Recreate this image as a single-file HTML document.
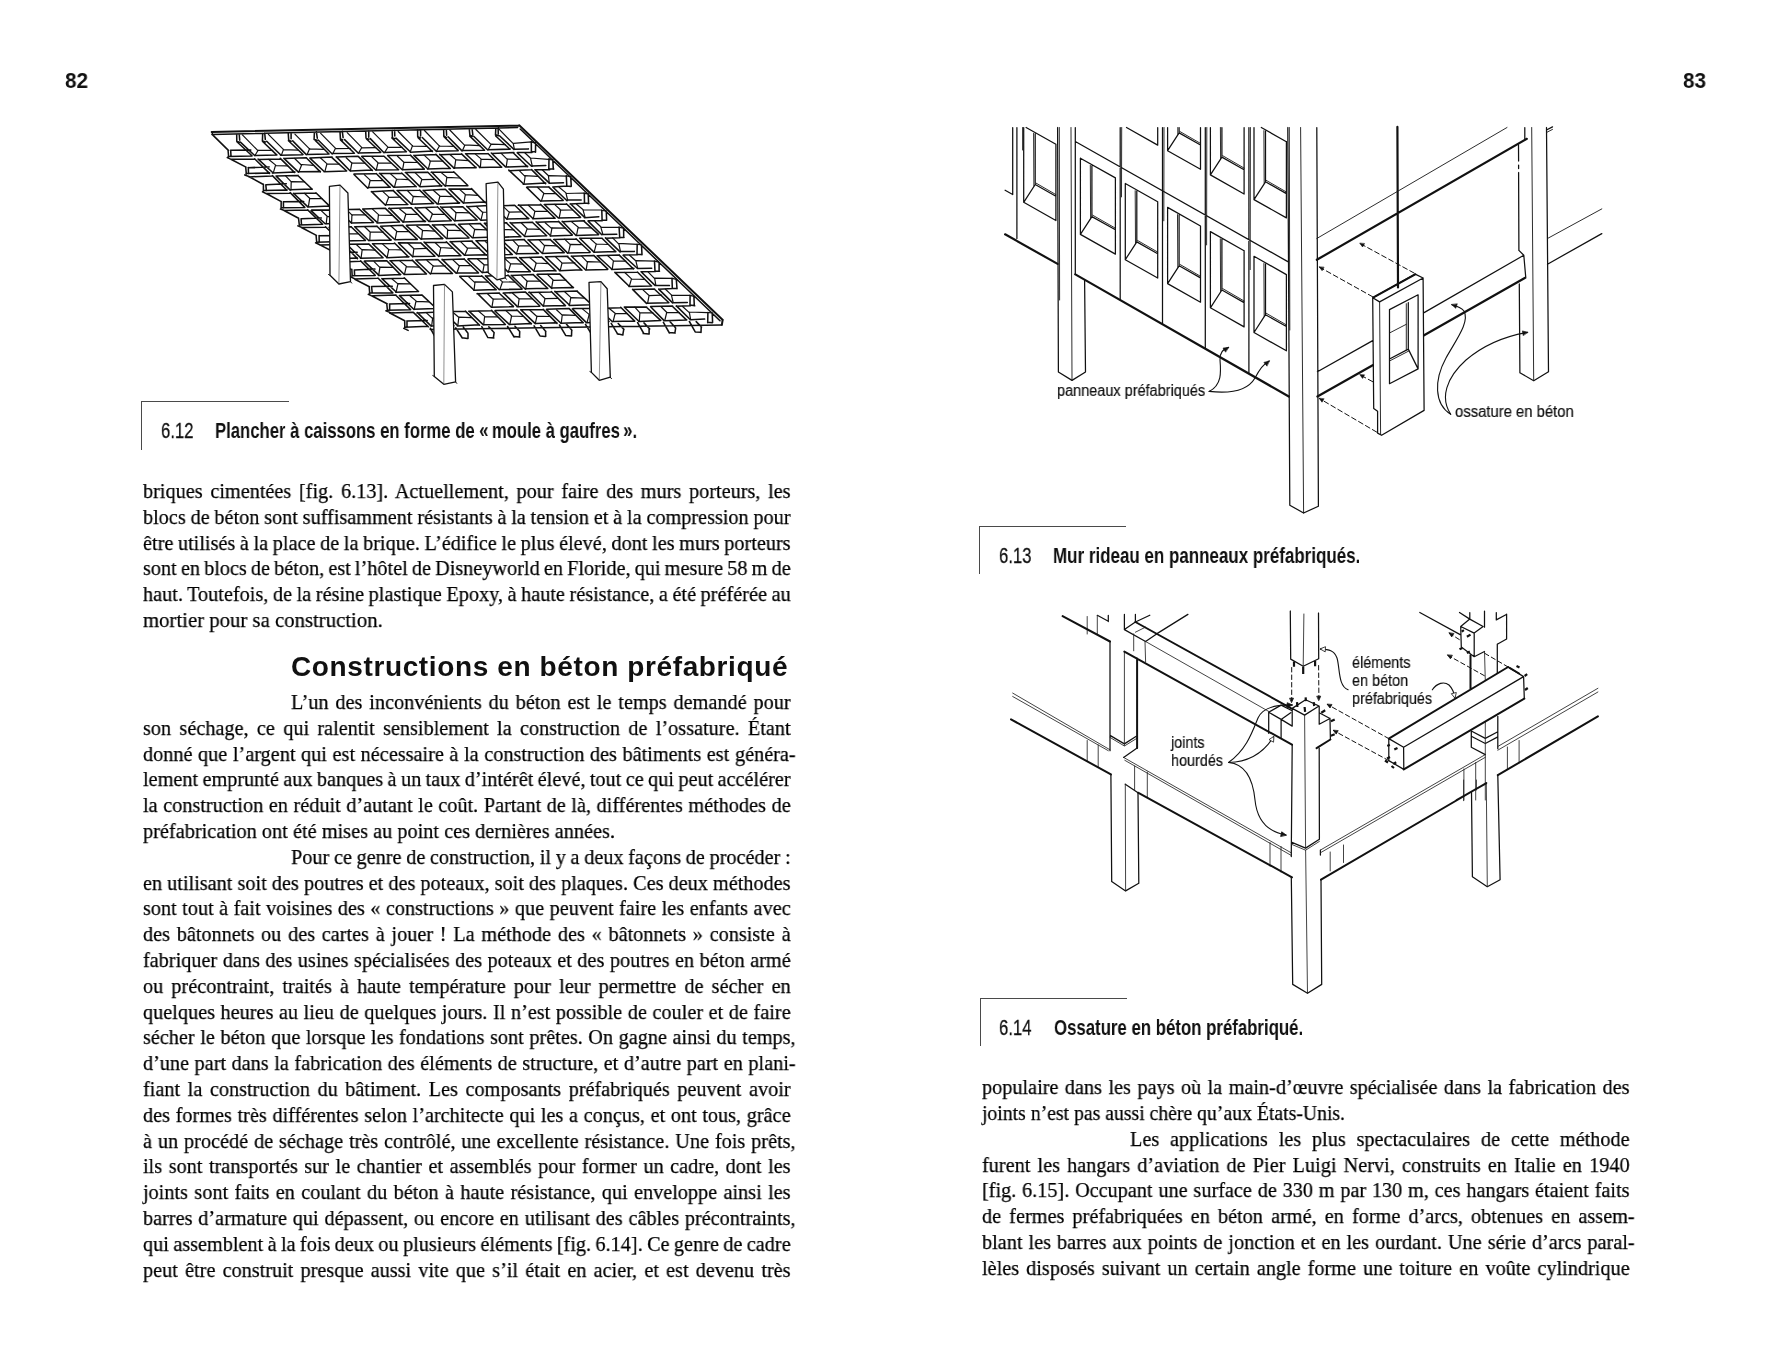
<!DOCTYPE html>
<html lang="fr"><head><meta charset="utf-8"><title>p82-83</title>
<style>
html,body{margin:0;padding:0;background:#fff;}
body{width:1772px;height:1358px;position:relative;overflow:hidden;font-family:"Liberation Serif",serif;color:#111;}
.t{position:absolute;white-space:nowrap;font-family:"Liberation Serif",serif;font-size:22.0px;line-height:26.0px;transform-origin:0 0;color:#000;-webkit-text-stroke:0.25px #000;will-change:transform;}
.pn{will-change:transform;position:absolute;font-family:"Liberation Sans",sans-serif;font-weight:bold;font-size:22px;line-height:24px;color:#111;transform-origin:0 0;transform:scaleX(0.94);}
.h{will-change:transform;position:absolute;white-space:nowrap;font-family:"Liberation Sans",sans-serif;font-weight:bold;font-size:28px;line-height:34px;letter-spacing:0.62px;transform-origin:0 0;color:#111;}
.rule{position:absolute;border-left:1.4px solid #4a4a4a;border-top:1.4px solid #4a4a4a;box-sizing:border-box;}
.cn,.cb,.lb{will-change:transform;position:absolute;white-space:nowrap;font-family:"Liberation Sans",sans-serif;transform-origin:0 0;color:#111;}
.cn{font-size:21.4px;line-height:26px;-webkit-text-stroke:0.3px #111;}
.cb{font-size:21.4px;line-height:26px;font-weight:bold;}
.lb{line-height:20px;color:#111;-webkit-text-stroke:0.2px #111;}
svg{position:absolute;left:0;top:0;overflow:visible;}
</style></head><body>
<div class="pn" style="left:64.6px;top:69.18px">82</div>
<div class="pn" style="left:1683.2px;top:69.18px">83</div>
<svg width="1772" height="1358" viewBox="0 0 1772 1358" fill="none" stroke="#1a1a1a" stroke-width="1.1" stroke-linecap="round" stroke-linejoin="round">
<g id="fig12" stroke="#111">
<path d="M276.9 154.9L255.0 155.4M254.9 155.7L240.4 142.1M262.6 141.5L276.7 154.9M302.8 154.8L280.5 155.2M280.8 155.0L266.7 141.2M288.5 140.7L303.0 154.5M328.8 154.1L306.4 154.4M306.3 154.6L292.7 140.9M315.0 140.1L329.0 154.0M354.4 153.2L332.3 153.5M332.2 154.0L318.2 140.0M340.5 139.9L354.4 153.2M380.7 152.4L358.1 153.1M358.4 153.2L344.6 139.6M366.5 139.0L380.7 152.3M406.2 151.7L384.1 152.4M384.0 152.8L370.3 138.6M392.2 138.2L406.4 151.7M432.5 151.0L410.3 152.2M410.5 152.0L396.0 138.1M418.1 137.8L432.4 151.5M458.2 150.8L436.5 151.2M436.5 151.5L422.3 137.5M444.0 136.8L458.1 150.4M484.1 150.2L462.4 150.5M462.0 150.9L448.1 136.7M469.8 136.1L484.5 150.2M510.3 149.1L487.8 149.8M487.8 150.0L473.7 136.2M495.7 136.0L510.0 149.3M528.4 148.9L513.7 149.3M513.9 149.4L499.5 135.7M258.4 159.5L280.7 158.9M295.0 172.1L272.5 173.1M272.7 172.5L258.1 159.1M280.3 158.4L294.4 172.4M284.0 158.5L306.5 157.8M320.4 171.5L298.6 171.8M298.4 172.1L283.9 158.4M306.5 158.0L320.3 171.9M310.2 158.0L332.1 157.0M346.6 170.9L324.0 171.8M324.4 171.7L309.9 158.1M332.0 157.6L346.4 170.8M336.1 157.0L358.1 156.3M372.2 170.0L350.4 170.9M350.0 170.8L336.4 156.9M358.5 156.6L372.4 170.5M361.8 156.3L383.9 156.2M398.5 169.8L375.9 170.0M376.0 170.2L361.7 156.5M384.0 156.3L398.6 169.7M387.6 155.6L409.9 155.2M424.2 169.0L402.2 169.7M402.2 169.8L387.8 155.8M410.4 155.1L424.3 169.1M413.9 155.4L435.8 154.4M449.8 168.2L427.6 169.1M427.9 169.0L413.9 155.4M435.9 154.4L450.3 168.5M439.7 154.7L462.0 154.1M476.1 167.4L453.6 168.1M454.0 168.1L439.7 154.3M461.5 153.9L476.1 167.8M465.5 153.8L487.5 153.7M501.7 167.1L479.4 167.6M480.0 167.3L465.8 154.0M488.0 153.5L501.7 167.3M491.8 153.5L513.9 152.6M527.7 166.3L505.9 167.0M505.5 166.9L491.3 153.0M513.4 153.0L527.6 166.7M517.5 152.6L532.0 152.4M545.8 165.6L531.8 166.0M531.5 166.2L517.2 152.8M276.0 176.0L298.0 175.4M312.2 189.0L290.0 189.7M290.2 190.1L276.2 176.1M298.1 175.7L312.2 189.2M354.0 173.9L375.6 173.8M390.3 187.3L367.9 187.5M367.8 188.2L354.0 174.5M376.2 173.5L389.7 187.1M379.4 173.4L401.9 173.2M415.6 186.4L393.8 187.3M393.7 187.1L379.7 173.3M401.7 173.0L416.2 186.8M405.3 172.6L427.6 172.3M441.9 185.8L419.9 186.8M419.7 186.4L405.9 172.8M427.9 172.2L441.6 186.2M431.1 172.2L453.9 172.0M467.9 185.7L445.9 185.8M445.3 186.3L431.6 172.0M453.7 171.7L467.6 185.3M509.0 170.7L531.1 169.7M545.7 183.1L523.2 184.2M523.4 183.7L508.8 170.1M531.6 169.6L545.6 183.7M534.8 169.7L549.7 169.7M563.5 182.8L549.1 183.3M549.4 183.1L535.2 169.9M293.6 193.6L316.1 193.0M329.8 206.1L307.5 206.9M307.9 206.9L293.5 193.2M315.9 192.8L330.1 206.6M371.3 191.7L393.6 190.6M407.9 204.5L385.8 204.7M385.5 205.2L371.6 191.6M393.2 190.6L407.4 204.2M397.0 190.5L419.3 190.2M433.7 203.5L411.1 204.2M411.5 204.1L397.1 190.5M419.7 190.1L433.3 203.5M423.4 190.4L445.3 189.2M459.6 202.9L437.0 203.9M437.2 203.9L423.1 190.3M445.3 189.2L459.1 203.1M448.9 189.1L471.6 189.1M485.4 202.1L463.5 202.9M463.5 203.1L449.3 189.1M471.5 188.6L485.3 202.7M527.0 187.1L549.0 186.9M563.2 200.4L540.8 201.1M540.8 201.2L526.7 187.4M548.6 186.9L563.1 200.3M552.8 187.0L567.1 186.1M581.2 200.0L567.1 200.1M567.0 200.7L552.8 187.0M311.6 210.1L333.5 210.0M347.4 223.2L325.5 223.8M325.1 223.7L311.1 210.6M333.6 210.0L347.4 223.6M337.6 209.7L359.3 209.3M373.5 222.5L351.5 223.0M351.6 223.1L337.3 210.0M359.5 209.2L373.4 222.4M362.9 209.1L385.4 208.2M399.5 222.1L377.0 223.0M377.1 222.4L362.8 209.1M385.6 208.6L399.4 221.9M388.7 208.6L410.9 207.8M425.6 221.2L402.9 222.1M403.2 222.1L389.2 208.1M411.1 207.7L425.0 221.7M415.1 207.9L437.2 207.0M451.3 220.7L429.3 221.4M428.9 221.4L415.3 207.5M437.4 206.8L451.1 220.6M441.0 207.3L463.0 206.7M477.2 220.0L454.7 220.8M454.7 221.0L440.6 206.7M462.7 206.8L477.0 219.9M467.0 206.7L488.6 205.6M502.7 219.2L481.1 220.3M480.9 220.3L466.8 206.3M488.6 205.6L503.2 219.3M492.6 205.9L514.7 205.3M528.9 218.6L507.0 219.1M507.0 219.2L492.3 205.5M515.0 205.5L528.6 218.8M518.2 205.3L540.8 204.8M554.9 218.1L532.6 218.7M532.9 218.5L518.8 204.8M540.5 204.4L555.1 218.2M544.2 204.4L566.8 204.0M580.5 217.5L558.8 217.9M558.3 218.0L544.6 204.7M566.4 203.7L580.5 217.4M570.1 203.9L584.5 203.2M598.8 216.8L584.4 217.7M584.6 217.4L570.4 203.8M329.2 227.5L351.2 226.8M365.1 240.5L342.8 240.9M343.3 241.1L329.1 227.2M351.1 226.8L365.4 240.4M354.6 226.8L377.1 226.3M391.2 239.9L369.2 240.4M368.9 240.7L354.7 226.8M377.0 226.3L390.9 240.1M380.6 226.3L402.9 225.3M416.8 239.3L395.1 239.8M394.9 239.7L380.6 226.4M402.8 225.6L417.3 239.4M406.5 225.2L428.7 224.8M442.9 238.6L420.9 239.0M421.1 239.3L406.4 225.6M429.1 225.1L442.7 238.7M432.3 225.0L454.8 224.4M469.0 238.1L446.9 238.6M446.5 238.5L432.6 224.9M454.7 224.5L468.9 237.7M458.6 224.3L480.6 223.5M495.1 236.9L472.7 237.8M472.3 237.8L458.6 224.4M480.5 223.9L494.8 237.2M484.6 223.3L506.8 222.8M520.7 236.4L498.5 237.4M498.6 237.3L484.3 223.3M506.4 223.0L520.8 236.7M510.4 222.9L532.6 222.3M546.7 235.7L524.5 236.4M524.6 236.2L510.1 222.5M532.6 222.5L546.7 235.8M536.4 222.2L558.6 221.6M572.1 235.2L550.4 236.1M550.6 235.8L536.1 221.9M558.5 221.4L572.2 234.9M562.2 221.8L584.4 220.7M598.5 234.7L576.2 235.5M576.0 235.5L562.2 221.2M583.9 221.1L598.6 234.3M588.1 220.8L602.3 220.7M616.8 234.3L602.1 234.4M601.8 234.8L588.1 221.1M346.3 244.2L368.7 243.9M383.1 257.8L360.4 258.3M361.0 258.3L346.7 244.2M369.0 244.1L383.0 257.8M372.7 243.7L394.4 243.4M409.0 256.7L386.7 257.7M386.9 257.4L372.5 243.8M394.5 243.0L408.6 257.0M398.4 242.8L420.3 242.9M435.0 256.2L412.6 256.6M412.7 256.7L398.7 243.3M420.8 242.9L434.5 255.9M424.2 242.5L446.6 242.2M460.7 255.5L438.4 255.9M438.8 256.4L424.1 242.1M446.3 241.8L460.9 255.8M450.0 241.7L472.2 241.0M486.5 254.7L464.2 255.2M464.5 255.1L450.4 241.6M472.1 241.6L486.3 255.2M475.9 240.8L498.4 240.6M512.2 254.5L490.1 254.7M490.0 254.6L476.4 241.0M498.1 240.6L512.3 254.5M501.7 240.4L524.5 239.6M538.5 253.4L516.5 253.8M516.4 254.0L501.8 240.2M524.4 240.0L538.1 253.5M528.0 240.0L550.3 239.4M564.0 252.6L542.2 253.4M542.2 253.2L528.1 239.7M550.3 239.6L564.2 252.6M553.6 239.4L576.2 238.9M590.0 252.4L567.9 253.0M567.6 253.1L554.1 239.2M576.0 238.7L590.1 252.0M579.9 238.3L602.2 238.2M615.7 251.4L593.8 252.2M593.7 251.9L579.7 238.3M602.0 238.3L615.8 251.7M605.6 238.2L620.2 237.8M634.4 251.4L619.4 251.6M620.1 251.9L605.5 237.9M364.5 261.1L386.5 260.7M400.7 274.4L378.4 275.4M378.5 274.9L364.3 261.4M386.8 260.8L400.4 274.6M389.9 260.8L412.6 260.3M426.5 274.0L404.1 274.6M404.3 274.5L390.3 260.8M412.2 260.1L426.3 273.9M416.3 260.1L437.9 259.5M452.3 273.4L429.9 273.6M430.5 274.0L415.8 260.0M438.1 259.7L452.5 273.5M442.0 259.8L464.2 258.9M478.5 272.9L456.2 273.1M456.1 273.1L442.1 259.4M464.1 259.0L478.2 272.5M468.2 258.7L490.0 258.6M503.8 271.6L482.0 272.5M482.3 272.7L467.9 259.2M490.1 258.3L504.3 271.9M493.7 258.3L516.3 257.5M530.1 271.5L507.7 271.7M508.2 272.1L493.8 257.9M516.2 257.8L530.3 271.6M519.6 257.8L541.7 257.1M555.6 270.5L534.0 271.3M533.9 271.0L519.7 257.6M541.7 257.1L556.0 271.0M545.8 256.8L567.9 256.2M581.6 269.8L559.4 270.8M559.8 270.4L545.5 256.8M567.4 256.6L581.9 270.3M571.3 256.2L593.8 255.5M607.6 269.6L585.6 270.1M585.4 269.7L571.4 256.0M594.0 255.6L607.8 269.1M597.1 255.8L619.3 254.9M633.9 268.4L611.5 269.5M611.7 269.0L597.3 255.8M619.5 255.4L633.5 269.0M623.3 255.0L637.5 254.8M651.7 268.3L637.4 268.5M637.3 268.3L623.1 255.2M382.2 278.7L404.4 278.2M418.0 291.4L395.7 292.3M396.2 292.0L381.9 278.6M404.2 277.8L418.5 291.5M459.7 276.3L482.0 276.1M496.1 289.5L473.7 290.3M473.6 289.8L459.9 276.8M481.7 275.7L496.2 289.7M485.8 275.9L508.0 275.5M522.0 289.2L499.7 289.5M499.3 289.7L485.5 275.9M508.0 275.1L522.0 288.7M511.6 275.4L533.4 274.5M547.7 288.3L525.9 288.8M525.4 289.2L511.2 275.3M533.5 274.9L547.8 288.5M537.3 274.3L559.4 274.0M573.5 287.5L551.2 287.9M551.8 288.4L537.0 274.8M559.8 274.1L573.3 287.7M615.3 272.5L637.0 272.2M651.6 286.0L628.9 286.5M629.4 286.5L614.9 272.4M637.4 272.0L651.2 285.8M641.0 271.7L655.5 271.4M669.4 285.6L654.8 285.3M655.0 285.4L641.1 271.7M399.4 295.5L421.8 294.9M435.7 308.4L413.6 309.2M414.0 309.5L399.8 295.9M422.1 295.1L436.1 308.3M477.0 293.7L499.4 293.1M513.5 306.7L491.4 307.2M491.1 307.0L477.6 293.6M499.2 293.3L513.4 306.4M503.2 293.1L525.5 292.1M539.8 306.2L517.0 306.8M517.2 306.4L503.5 293.0M525.5 292.1L539.7 305.7M528.8 292.5L551.1 291.9M565.5 305.6L542.9 305.9M543.4 306.3L529.2 292.0M551.3 291.5L565.4 305.6M554.8 291.8L577.1 290.9M591.5 304.8L569.2 305.5M569.4 305.0L554.9 291.4M577.2 291.4L591.5 304.4M632.7 289.4L654.6 289.1M668.9 302.8L646.7 303.2M646.5 303.4L632.6 289.4M654.8 289.5L668.7 302.5M658.7 289.2L672.9 288.5M687.3 302.6L673.0 302.8M672.6 302.9L658.7 289.1M416.9 312.9L439.4 312.0M453.6 325.6L431.1 325.9M431.2 326.1L417.4 312.6M439.7 311.9L453.8 325.8M442.9 311.8L465.4 311.2M479.3 324.8L457.3 325.9M457.4 325.4L443.3 312.3M465.4 311.1L479.6 325.3M468.7 311.2L490.9 310.8M505.2 324.4L483.2 324.8M483.1 324.6L469.3 311.4M491.5 310.4L505.4 324.5M495.1 310.5L517.2 310.3M531.4 323.6L509.2 324.6M509.0 324.1L494.9 311.0M516.8 309.8L531.2 323.9M520.6 309.8L543.2 309.7M556.9 322.8L535.1 323.5M535.3 323.6L520.9 309.9M543.2 309.4L557.0 323.4M546.6 309.3L568.7 308.6M583.2 322.5L560.7 323.3M560.7 323.0L546.5 309.6M569.2 308.6L583.2 322.7M572.9 308.5L595.1 308.5M608.8 321.5L586.5 322.7M586.4 322.6L572.4 308.9M594.5 307.9L609.0 321.5M598.2 308.4L620.6 307.8M634.6 321.1L612.4 321.6M612.4 321.8L598.3 308.2M620.7 307.2L634.7 321.1M624.3 307.1L646.7 307.0M660.8 320.5L638.7 321.4M638.8 321.2L624.4 307.3M646.5 307.2L660.6 320.4M650.6 306.4L672.6 306.1M686.7 319.9L664.3 320.7M664.1 320.6L650.6 306.8M672.6 306.5L686.4 319.9M676.2 306.3L690.6 305.7M704.6 319.1L690.6 319.8M690.4 319.8L676.4 305.9M228.2 156.6L252.0 156.1M231.2 159.3L254.5 159.2M228.6 156.7L228.1 150.5M231.0 156.5L230.7 150.5M227.3 157.6L231.7 159.6M230.5 150.2L250.8 150.1M230.9 159.3L246.0 167.1M246.0 173.6L269.6 172.9M249.0 176.9L272.0 175.9M246.3 173.9L245.7 167.0M248.5 173.7L248.3 167.5M244.8 174.9L249.6 176.7M248.1 167.7L269.0 166.9M249.2 176.7L263.4 184.5M263.6 190.5L287.2 190.1M266.6 193.6L290.1 193.2M263.4 190.9L263.4 184.3M266.4 190.8L265.8 184.9M262.5 191.8L267.1 194.1M266.0 184.8L286.3 183.8M266.7 193.7L281.3 201.6M281.1 207.7L304.4 207.5M283.9 210.4L307.7 210.1M281.1 208.0L281.2 201.4M283.5 208.0L283.4 201.8M280.5 209.1L285.0 210.7M283.4 201.7L303.7 201.5M284.0 210.5L298.6 218.3M299.3 225.0L322.4 224.2M301.5 227.6L325.4 227.3M299.3 224.8L298.5 218.1M301.5 224.9L301.1 218.7M297.9 225.9L302.6 227.7M301.4 218.8L321.3 218.1M301.9 227.7L316.4 235.4M316.5 242.2L339.9 241.5M319.7 244.9L342.8 244.5M316.7 242.3L316.1 235.5M319.2 241.7L319.1 235.5M315.6 242.8L320.3 245.0M319.0 235.8L339.4 235.4M319.4 244.6L334.3 252.3M334.6 258.8L357.4 258.1M337.3 262.2L360.4 261.3M334.2 259.3L334.2 252.3M336.4 259.2L336.1 253.1M333.0 259.9L337.7 261.9M336.5 252.6L357.2 252.2M337.4 261.6L351.9 269.9M351.9 275.8L375.2 275.5M354.6 278.9L377.8 278.2M352.2 276.1L351.8 269.3M354.6 275.8L354.4 270.2M351.1 277.1L355.2 279.0M354.3 269.9L374.9 269.1M354.8 279.2L369.4 286.7M369.4 292.9L392.8 292.8M372.7 295.8L396.0 295.0M369.7 293.5L369.2 287.0M372.2 292.8L371.6 286.9M368.3 294.3L372.7 296.4M371.6 286.6L392.3 286.2M372.5 296.2L387.1 303.7M387.0 310.2L410.3 309.7M389.8 313.1L413.3 312.3M387.4 310.0L386.8 304.0M389.6 310.4L389.7 304.0M385.9 310.9L390.9 312.9M389.4 304.0L409.6 303.5M389.9 313.0L404.7 320.7M404.7 327.2L428.0 326.3M404.8 327.5L404.7 321.0M407.0 327.6L407.0 321.3M403.8 328.4L408.1 330.4M406.8 320.9L427.2 320.5M236.9 141.7L252.0 155.8M254.6 158.7L269.5 173.4M272.4 175.6L286.9 190.3M290.2 192.6L304.8 207.4M307.7 209.9L322.6 224.3M325.5 226.7L340.3 241.3M342.7 243.8L357.5 258.6M360.6 260.9L375.2 275.2M377.9 278.0L392.8 292.9M396.1 295.5L410.6 309.6M413.6 312.6L428.4 326.7M211.9 134.5L517.6 127.5M212.2 132.0L212.4 134.0M212.4 134.6L228.4 150.4M236.7 134.0L236.8 141.3M239.2 134.0L239.7 140.1M237.0 141.4L239.7 142.2M262.7 133.4L262.4 140.9M264.7 133.0L265.3 139.4M262.6 141.0L265.4 141.9M288.2 132.8L288.7 140.2M291.1 132.9L291.1 138.7M288.6 140.3L291.1 141.2M314.4 132.3L314.1 139.4M316.4 131.8L317.3 138.2M314.5 139.4L317.0 140.3M340.0 131.8L340.4 138.6M342.3 131.4L343.1 137.6M340.4 139.0L342.7 140.0M365.7 131.2L366.0 137.9M368.8 130.9L368.7 137.3M366.3 138.4L368.8 139.2M392.2 130.4L392.4 137.2M394.6 130.2L394.8 136.0M391.9 137.8L394.8 138.8M417.6 129.8L417.7 136.8M420.6 129.9L420.6 136.0M418.3 136.9L420.4 138.0M443.7 129.6L443.8 136.3M446.3 129.2L446.6 135.2M444.2 136.1L446.5 137.6M469.3 129.0L469.9 135.5M472.1 128.9L472.8 134.6M470.0 135.2L472.4 136.3M495.8 128.5L495.5 134.9M498.1 127.9L498.3 133.9M495.8 134.7L498.6 135.8M520.2 129.0L720.0 320.8M531.4 152.2L531.3 141.8M535.5 152.2L535.6 142.5M531.5 151.7L535.6 151.8M548.8 168.9L549.0 158.8M553.3 169.2L552.8 159.6M549.0 168.9L553.8 169.0M566.8 186.2L566.3 175.8M571.3 186.2L570.7 177.0M566.9 185.9L571.0 186.5M584.5 202.8L584.3 193.1M588.6 203.6L588.2 193.7M584.0 203.1L588.9 203.4M602.1 220.5L601.8 210.3M606.6 220.3L606.3 211.1M601.9 220.1L606.6 220.2M619.7 237.5L619.1 227.1M623.7 237.3L623.6 228.2M619.7 237.2L624.0 237.4M637.0 254.4L637.2 244.2M642.0 254.7L641.5 245.3M637.4 254.5L641.4 254.6M655.0 271.5L654.5 261.1M659.1 271.2L659.1 262.4M655.1 271.2L659.5 271.2M672.3 288.2L672.0 278.3M677.0 288.8L676.3 279.4M672.3 288.2L677.1 288.4M690.0 305.6L690.1 295.4M694.3 305.8L693.9 296.2M690.2 305.1L694.7 305.8M707.7 322.7L707.9 312.7M712.6 322.5L712.2 312.9M707.9 322.2L712.2 322.8M430.2 329.4L721.9 325.1M430.3 328.2L436.0 338.7M436.0 338.4L441.9 339.2M437.4 328.1L442.6 334.2M442.4 334.1L441.5 338.9M455.8 327.8L462.3 338.0M462.0 337.8L467.5 338.5M463.3 327.1L467.8 333.0M468.0 333.5L468.0 338.4M481.8 326.6L487.8 337.5M488.0 337.6L493.9 338.0M488.8 326.8L493.8 332.3M494.1 332.6L493.4 337.6M507.6 326.5L514.1 337.0M514.3 336.6L519.7 337.1M515.0 326.2L519.7 331.6M519.7 332.0L519.5 336.8M534.1 325.8L539.8 335.7M540.1 336.0L545.1 336.4M540.7 325.6L545.8 331.4M545.6 331.1L545.7 336.4M559.5 325.0L565.5 335.1M565.7 335.4L571.4 336.0M566.5 324.3L571.9 330.3M571.7 330.6L571.5 336.0M585.5 324.4L591.8 334.7M591.4 335.0L597.3 334.9M592.3 324.3L597.5 329.9M597.9 330.2L597.3 335.4M611.2 323.4L617.9 334.3M617.2 333.7L623.0 334.9M618.2 323.5L623.9 329.4M623.8 329.2L622.9 334.2M637.6 322.7L643.8 333.5M643.2 333.6L648.8 333.9M644.0 322.9L649.7 329.0M649.1 328.9L649.1 334.1M663.4 322.4L669.4 333.0M669.1 332.4L675.0 333.1M670.1 321.7L675.5 327.7M675.6 328.3L674.9 333.0M689.4 321.5L695.2 331.8M695.6 332.1L700.7 332.3M696.2 321.6L701.5 327.1M701.2 327.3L701.0 332.4" stroke-width="1.55"/>
<path d="M242.4 134.9L257.9 150.7M257.9 150.3L272.7 150.4M258.1 150.2L255.1 155.3M268.4 134.3L283.6 149.6M283.2 149.6L298.1 150.1M283.5 149.4L281.6 154.6M294.9 134.1L309.5 148.9M309.2 148.9L323.9 149.4M309.7 148.6L307.1 154.4M320.7 133.4L335.6 148.4M335.6 148.7L350.4 148.5M335.5 148.3L332.9 153.6M347.2 132.7L361.9 147.6M361.7 147.8L375.6 147.7M361.8 147.5L358.8 152.6M372.7 131.8L387.7 146.9M387.9 147.1L402.2 147.3M387.7 147.5L384.9 152.1M398.2 131.5L412.8 146.2M412.8 146.1L427.1 146.3M412.5 145.6L410.4 151.5M424.5 130.5L439.5 146.1M439.1 146.0L454.0 146.4M439.6 145.8L436.4 151.2M449.8 130.0L464.5 145.2M464.4 144.8L479.9 145.6M464.7 145.5L462.5 150.6M475.9 129.5L491.2 144.6M491.2 144.2L505.5 144.7M490.8 144.8L488.2 149.7M498.5 128.7L513.3 143.7M513.6 143.4L531.2 141.9M513.3 143.6L514.3 149.1M268.8 159.5L275.7 165.1M275.9 165.7L287.6 165.9M275.5 165.4L273.3 172.8M294.7 158.5L301.3 165.0M301.4 164.5L313.7 165.3M301.8 164.6L298.7 172.2M320.3 157.8L327.1 163.9M326.8 163.9L339.3 164.1M326.9 164.0L325.0 171.2M346.2 157.7L352.1 163.2M352.3 163.1L365.0 163.1M351.9 162.7L350.4 170.8M371.6 156.6L378.0 162.8M378.3 162.9L391.2 163.1M378.0 162.7L376.3 169.9M397.5 156.2L403.9 162.3M403.5 162.1L417.2 162.5M403.9 162.3L402.6 169.6M424.1 155.1L430.3 160.9M429.8 160.9L442.9 161.1M430.3 161.4L428.4 168.6M450.2 154.7L456.0 159.9M456.3 159.9L468.7 160.7M455.7 160.1L454.5 168.4M475.4 154.1L481.3 159.1M481.1 159.1L493.9 159.7M481.0 159.4L480.4 167.1M501.2 153.3L507.0 159.2M507.3 159.1L520.3 159.3M507.4 158.9L506.3 166.4M524.8 152.8L530.6 158.2M530.3 158.0L548.5 159.3M530.5 158.1L532.3 166.4M285.8 176.1L291.3 181.9M291.5 181.6L304.6 181.8M291.2 181.7L291.0 189.9M364.3 174.6L370.4 180.4M370.2 180.3L382.6 180.6M370.1 180.5L368.5 187.6M390.3 173.6L396.9 179.5M396.4 179.0L408.5 179.7M396.5 179.2L394.4 187.3M415.3 172.9L421.8 179.2M422.1 179.6L434.7 179.4M421.8 179.6L419.9 186.1M440.9 172.4L446.9 177.3M446.9 177.4L459.7 178.0M446.8 177.5L445.7 185.7M519.3 170.6L524.7 176.1M524.7 175.7L537.5 176.3M525.2 176.0L524.1 183.5M542.2 169.8L548.5 175.8M548.8 175.6L566.2 176.2M548.4 175.6L549.3 183.2M304.4 193.3L309.9 198.5M310.0 198.4L322.0 198.7M309.6 198.9L308.4 206.6M382.7 191.4L388.9 197.1M388.4 197.4L400.7 197.1M388.7 197.2L385.8 204.7M407.4 190.5L413.2 196.6M413.4 196.3L426.1 197.0M413.3 196.5L411.8 204.0M433.3 190.3L440.1 196.2M439.9 196.1L452.6 196.7M439.9 196.2L438.0 203.8M459.6 189.4L465.6 194.7M465.3 194.6L477.8 195.3M465.3 194.8L463.9 202.5M537.4 187.3L543.8 193.2M543.6 193.4L555.8 193.7M543.9 193.2L541.5 200.6M559.1 187.3L566.0 192.9M565.9 193.5L583.7 193.0M565.9 192.9L567.6 200.0M320.9 210.4L327.2 216.2M327.0 216.4L340.0 216.7M327.1 216.1L326.2 223.6M346.7 209.8L352.3 215.4M352.0 214.9L365.9 214.9M351.9 215.0L351.6 223.0M372.5 209.1L378.8 214.9M379.0 215.1L392.1 215.4M378.4 215.0L377.7 222.3M399.4 208.8L406.2 214.3M406.2 214.3L418.0 214.3M405.9 214.0L403.5 222.0M425.7 207.7L432.4 213.8M432.0 214.3L444.5 214.3M432.3 214.3L429.5 221.4M450.3 207.3L455.9 212.5M455.5 212.4L469.2 212.8M456.0 212.6L455.1 220.8M476.3 206.4L482.5 212.3M482.5 212.0L495.9 212.3M482.9 212.2L481.0 219.8M502.6 205.9L509.1 212.1M509.1 212.2L521.8 211.9M509.4 211.9L507.0 219.3M528.3 205.3L535.1 211.5M535.2 211.4L547.8 211.4M534.8 211.6L533.3 218.7M554.5 204.4L560.7 210.0M560.1 210.2L572.7 210.0M560.7 210.1L559.2 217.9M576.6 204.2L583.2 209.8M583.0 210.0L601.6 210.0M583.1 210.1L585.1 217.4M339.2 227.6L346.3 233.5M346.1 233.9L358.1 233.8M345.8 233.8L343.9 240.8M364.6 226.8L370.1 232.0M370.4 232.2L383.2 232.1M370.2 232.2L369.8 240.2M390.9 226.0L397.0 231.5M397.0 231.5L409.4 231.7M396.7 231.4L395.1 239.7M416.8 225.9L422.8 230.5M422.4 230.4L434.9 231.1M422.5 230.4L421.6 239.1M442.3 224.6L448.0 229.9M448.0 230.2L461.1 230.6M447.6 230.4L447.2 238.2M469.5 224.3L474.8 229.6M474.9 229.3L486.9 229.8M474.7 229.3L473.0 237.6M494.0 223.7L499.8 229.4M499.8 229.3L513.9 229.8M500.2 229.7L499.3 237.0M521.1 222.8L527.3 228.8M527.3 228.8L539.7 229.4M527.1 228.9L524.6 236.0M545.2 222.7L551.5 228.4M551.5 227.8L565.5 228.2M552.0 227.9L550.5 235.8M571.7 221.9L578.3 227.2M578.2 227.6L591.2 227.9M578.0 227.8L576.6 235.0M594.9 221.3L600.8 226.7M600.7 227.1L619.2 227.3M600.8 227.1L602.8 234.1M356.6 244.8L362.0 249.9M362.5 249.6L375.2 250.1M362.2 249.5L361.1 258.0M382.4 243.9L388.4 249.3M389.0 249.5L401.3 249.9M388.8 249.4L387.2 257.1M407.8 243.0L413.9 248.8M413.8 248.9L427.3 248.4M413.9 248.5L412.8 256.9M435.3 242.8L440.8 248.1M440.4 247.5L452.9 248.3M440.8 247.6L439.0 256.1M460.8 241.9L467.3 248.3M467.8 248.1L479.6 248.1M467.8 248.0L464.9 255.0M485.3 241.6L492.4 247.3M492.3 247.3L505.4 247.5M492.2 247.8L491.1 254.9M513.0 240.4L518.5 246.2M518.9 245.8L530.4 245.9M518.8 246.0L516.5 253.7M539.1 239.8L544.7 245.8M544.8 245.4L556.8 245.9M544.6 245.6L542.5 253.3M564.6 239.1L570.5 244.9M570.3 244.4L582.6 244.7M570.3 244.7L568.5 252.7M590.6 239.0L596.0 243.9M596.3 244.0L608.2 244.5M596.3 243.9L594.2 251.9M612.6 237.9L618.4 243.6M618.2 243.4L637.3 244.4M618.8 243.7L620.5 251.6M374.1 261.6L379.8 267.3M380.0 267.1L393.1 267.3M379.9 267.3L378.8 274.7M399.8 260.9L406.6 266.5M406.4 266.7L419.1 267.2M406.2 266.9L404.6 273.9M427.0 260.5L433.1 265.9M433.2 266.1L445.3 265.9M433.2 265.6L430.9 273.7M452.7 259.6L458.9 265.5M458.9 265.7L471.4 265.6M459.5 265.5L456.8 273.2M477.7 259.3L484.1 264.8M483.7 264.7L496.9 265.0M484.1 265.0L482.8 272.3M504.4 258.2L510.7 263.9M510.4 263.7L522.7 264.2M510.6 264.2L508.5 271.3M529.7 257.5L536.2 263.0M535.7 263.0L548.5 263.7M536.1 263.5L534.0 270.7M555.5 256.8L562.2 263.1M561.8 263.1L574.9 262.9M562.0 263.1L560.2 270.7M581.7 256.1L587.4 262.1M587.6 261.7L600.1 262.0M587.5 261.6L586.2 269.6M607.5 255.5L613.5 260.9M613.6 261.2L625.9 261.1M613.4 260.9L612.3 268.8M629.6 255.3L636.0 261.0M636.0 260.7L654.5 261.1M635.9 261.2L637.7 268.3M392.1 279.0L398.2 284.1M397.8 283.6L410.3 283.9M397.9 283.9L396.2 291.8M468.7 276.9L474.6 282.4M475.0 281.8L488.4 282.2M475.0 282.3L474.1 289.7M495.9 276.1L502.8 282.1M502.6 281.8L514.5 282.1M502.5 281.8L500.0 289.1M521.1 275.4L527.5 281.5M527.0 281.1L540.5 281.2M527.0 281.1L525.8 288.8M547.4 274.4L553.4 280.2M553.2 280.4L566.0 280.1M553.0 279.8L551.6 288.2M624.8 272.5L631.5 278.9M631.7 279.0L644.6 279.3M631.5 278.8L629.4 286.0M648.3 272.2L654.4 278.4M654.6 278.2L672.2 278.3M654.7 278.5L655.8 285.2M409.9 295.8L416.6 301.4M416.4 301.3L428.5 301.9M416.0 301.2L414.3 309.0M487.5 293.8L493.1 299.2M493.1 299.1L506.0 299.0M493.3 298.8L491.9 307.3M512.6 293.2L518.7 298.5M519.0 298.6L532.3 298.9M519.1 298.7L518.1 306.7M538.7 292.3L544.9 298.5M545.4 298.6L558.2 298.4M544.9 298.8L543.5 305.8M564.7 291.8L571.0 297.6M571.3 297.7L584.5 298.1M570.8 297.7L569.4 305.4M643.0 289.9L648.8 295.3M649.0 295.6L661.7 295.1M649.1 295.4L647.6 303.3M665.5 289.2L671.1 294.6M671.3 295.1L689.9 295.3M671.3 294.6L673.1 302.2M426.7 313.1L432.3 318.3M432.4 318.3L445.5 318.2M432.7 317.9L431.7 325.7M452.8 312.2L459.0 317.5M459.0 317.2L471.5 317.7M458.8 317.3L457.9 325.3M478.7 311.2L484.7 316.4M484.8 316.6L497.5 316.9M484.6 316.8L483.7 324.6M505.9 310.6L511.7 316.0M511.2 316.0L523.4 316.5M511.6 316.1L509.9 324.0M530.0 310.3L536.6 316.3M536.4 316.1L550.0 316.5M537.0 316.2L535.3 323.3M556.5 309.8L562.2 315.1M562.5 314.9L575.5 315.4M562.2 315.2L561.3 323.0M582.7 309.1L589.4 314.6M588.9 315.2L602.2 314.8M589.1 314.8L587.2 321.9M609.3 308.5L615.7 313.8M615.2 313.4L627.1 313.6M615.1 313.7L613.1 321.5M634.8 307.2L640.2 313.1M640.0 312.9L652.9 312.8M639.9 312.5L639.3 321.0M661.1 306.8L666.9 312.5M667.0 312.3L679.2 312.6M666.7 312.5L664.8 320.5M682.6 306.5L689.3 312.6M689.3 312.0L707.5 312.7M689.3 312.1L690.6 319.4M530.9 141.9L535.7 143.1M548.5 159.3L553.0 160.0M566.4 175.9L570.8 176.7M584.0 193.3L588.1 193.8M601.5 210.4L606.0 211.0M619.2 227.4L623.8 228.2M637.1 244.3L641.1 244.7M654.9 261.2L658.6 262.2M672.2 278.4L676.4 279.4M690.0 295.3L694.2 296.3M707.7 312.4L711.8 313.0" stroke-width="1.2"/>
<path d="M211.7 132.0L519.4 125.5M519.2 125.2L722.8 320.0M722.6 320.0L721.9 324.7" stroke-width="2.0"/>
<polygon points="329.4,186.3 340.0,185.1 347.9,193.0 350.5,281.6 338.9,284.0 330.0,275.3" fill="#fff" stroke-width="1.3"/><path d="M340.0 185.1L338.9 284.0" stroke-width="0.6" stroke="#444"/><path d="M328.5 274.5L330.0 275.3M350.5 281.6L351.7 283.1" stroke-width="1"/><polygon points="486.1,183.7 497.9,182.1 503.4,189.2 505.2,277.8 496.9,279.8 488.2,272.7" fill="#fff" stroke-width="1.3"/><path d="M497.9 182.1L496.9 279.8" stroke-width="0.6" stroke="#444"/><path d="M486.7 271.9L488.2 272.7M505.2 277.8L506.4 279.3" stroke-width="1"/><polygon points="433.5,285.5 444.5,284.4 452.4,291.9 455.6,381.9 443.8,384.3 434.3,376.4" fill="#fff" stroke-width="1.3"/><path d="M444.5 284.4L443.8 384.3" stroke-width="0.6" stroke="#444"/><path d="M432.8 375.6L434.3 376.4M455.6 381.9L456.8 383.4" stroke-width="1"/><polygon points="589.0,282.4 600.9,281.6 607.2,288.7 610.3,377.2 599.3,380.3 591.4,372.4" fill="#fff" stroke-width="1.3"/><path d="M600.9 281.6L599.3 380.3" stroke-width="0.6" stroke="#444"/><path d="M589.9 371.6L591.4 372.4M610.3 377.2L611.5 378.7" stroke-width="1"/>
</g>

<g id="fig13" stroke="#111">
<path d="M1080.4 158.2L1115.4 177.9M1080.4 158.2L1080.4 234.4M1115.4 177.9L1115.4 254.1M1080.4 234.4L1115.4 254.1M1091.9 165.9L1091.9 216.6M1091.9 216.6L1115.4 229.8M1080.4 234.4L1091.9 216.6M1125.3 183.5L1157.7 201.8M1125.3 183.5L1125.3 259.7M1157.7 201.8L1157.7 278.0M1125.3 259.7L1157.7 278.0M1136.8 191.2L1136.8 241.9M1136.8 241.9L1157.7 253.7M1125.3 259.7L1136.8 241.9M1157.7 127.5L1157.7 145.1M1126.5 127.5L1157.7 145.1M1167.6 207.4L1200.5 226.0M1167.6 207.4L1167.6 283.6M1200.5 226.0L1200.5 302.2M1167.6 283.6L1200.5 302.2M1179.1 215.1L1179.1 265.8M1179.1 265.8L1200.5 277.9M1167.6 283.6L1179.1 265.8M1167.6 127.5L1167.6 150.7M1200.5 127.5L1200.5 169.3M1167.6 150.7L1200.5 169.3M1179.1 127.5L1179.1 132.9M1179.1 132.9L1200.5 145.0M1167.6 150.7L1179.1 132.9M1210.4 231.6L1244.1 250.7M1210.4 231.6L1210.4 307.8M1244.1 250.7L1244.1 326.9M1210.4 307.8L1244.1 326.9M1221.9 239.3L1221.9 290.0M1221.9 290.0L1244.1 302.6M1210.4 307.8L1221.9 290.0M1210.4 127.5L1210.4 174.9M1244.1 127.5L1244.1 194.0M1210.4 174.9L1244.1 194.0M1221.9 127.5L1221.9 157.1M1221.9 157.1L1244.1 169.7M1210.4 174.9L1221.9 157.1M1254.0 256.3L1286.4 274.6M1254.0 256.3L1254.0 332.5M1286.4 274.6L1286.4 350.8M1254.0 332.5L1286.4 350.8M1265.5 264.0L1265.5 314.7M1265.5 314.7L1286.4 326.5M1254.0 332.5L1265.5 314.7M1261.3 127.5L1286.4 141.7M1254.0 127.5L1254.0 199.6M1286.4 141.7L1286.4 217.9M1254.0 199.6L1286.4 217.9M1265.5 131.1L1265.5 181.8M1265.5 181.8L1286.4 193.6M1254.0 199.6L1265.5 181.8M1026.1 127.5L1055.9 144.3M1023.7 127.5L1023.7 202.3M1055.9 144.3L1055.9 220.5M1023.7 202.3L1055.9 220.5M1035.2 133.8L1035.2 184.5M1035.2 184.5L1055.9 196.2M1023.7 202.3L1035.2 184.5M1012.7 127.5L1012.7 194.5M1005.1 190.2L1012.7 194.5M1120.2 127.5L1120.2 299.8M1162.5 127.5L1162.5 323.7M1205.3 127.5L1205.3 347.8M1248.9 127.5L1248.9 372.5M1075.3 127.5L1075.3 274.4M1016.9 127.5L1016.9 238.5M1075.3 141.5L1287.8 261.6M1057.6 127.5L1058.4 372.0M1084.6 280.0L1085.5 372.0M1058.4 372.0L1072.0 380.4L1085.5 372.0M1287.8 127.5L1289.8 505.2M1316.8 127.5L1318.4 506.2M1289.8 505.2L1303.6 513.0L1318.4 506.2M1518.5 144.7L1518.6 161.0M1518.6 165.0L1518.6 168.5M1518.6 172.5L1518.9 250.4M1518.9 250.4L1523.8 255.3M1524.8 127.5L1524.8 139.0M1546.5 127.5L1548.5 371.8M1519.3 283.9L1519.9 372.8M1519.9 372.8L1533.7 380.7L1548.5 371.8M1546.5 130.0L1552.5 126.9M1317.4 371.8L1372.7 340.6M1424.1 312.6L1523.8 255.3M1523.8 255.3L1525.8 278.0M1547.5 264.2L1601.8 233.6M1372.7 297.8L1415.2 274.1L1423.1 278.0L1379.6 301.9L1372.7 297.8M1372.7 297.8L1373.7 408.4L1377.6 411.3L1377.6 433.1L1381.6 435.3L1424.1 410.4L1423.1 278.0M1389.5 309.6L1418.1 294.8L1418.1 368.9L1389.5 383.7L1389.5 309.6M1408.3 302.5L1408.3 349.1M1389.5 359.0L1408.3 349.1L1418.1 368.9" stroke-width="1.25"/>
<path d="M1090.3 165.4L1090.6 218.1M1092.7 215.2L1115.4 228.2M1135.2 190.7L1135.5 243.4M1137.6 240.5L1157.7 252.1M1177.5 214.6L1177.8 267.3M1179.9 264.4L1200.5 276.3M1177.8 127.5L1177.8 134.4M1179.9 131.5L1200.5 143.4M1220.3 238.8L1220.6 291.5M1222.7 288.6L1244.1 301.0M1220.4 127.5L1220.6 158.6M1222.7 155.7L1244.1 168.1M1263.9 263.5L1264.2 316.2M1266.3 313.3L1286.4 324.9M1263.9 130.6L1264.2 183.3M1266.3 180.4L1286.4 192.0M1033.6 133.3L1033.9 186.0M1036.0 183.1L1055.9 194.6M1121.7 127.5L1121.5 196.9M1164.0 127.5L1163.8 220.8M1206.8 127.5L1206.6 244.9M1250.4 127.5L1250.2 269.6M1071.0 127.5L1072.0 380.4M1022.6 127.5L1022.6 150.0M1059.3 127.5L1059.6 300.0M1289.3 127.5L1289.8 330.0M1300.6 127.5L1303.6 513.0M1316.8 238.5L1507.0 127.5M1531.7 127.5L1533.7 380.7M1546.5 132.5L1552.5 129.4M1547.5 238.5L1601.8 208.9M1379.6 301.9L1380.6 434.5M1406.3 303.7L1406.3 350.0M1389.5 361.0L1408.8 351.0M1389.5 333.0L1406.3 324.3" stroke-width="0.9" stroke="#151515"/>
<path d="M1075.3 274.4L1288.8 396.5M1005.1 234.3L1057.6 263.9M1397.4 126.9L1398.0 287.5M1316.8 259.8L1526.8 138.8M1317.4 396.5L1372.7 365.2M1424.1 335.3L1524.8 278.0M1373.5 297.4L1415.2 274.4" stroke-width="2.2"/>
<path d="M1414.2 273.1L1359.9 243.4M1372.7 296.8L1319.4 267.1M1376.7 432.1L1319.4 398.5M1372.7 381.7L1359.9 374.8" stroke-width="1.0" stroke-dasharray="5 3"/>
<path d="M1209.1 391.4C1222 385 1221 372 1220 360C1219.5 352 1223 349 1228.5 347.4" stroke-width="1.1"/><path d="M1209.1 391.4C1232 394 1248 390 1255 378C1259 370 1263 364 1269.2 360.9" stroke-width="1.1"/><path d="M1450.7 414.3C1434 404 1434 380 1446 358C1456 340 1470 322 1464 311C1461 307 1457 306 1451.7 304.7" stroke-width="1.1"/><path d="M1450.7 414.3C1440 398 1446 378 1466 360C1486 343 1506 336 1527.7 332.3" stroke-width="1.1"/>
<polygon points="1359.9,243.4 1362.6,247.0 1364.4,243.8" fill="#111" stroke="#111" stroke-width="0.6"/><polygon points="1319.4,267.1 1322.1,270.7 1323.9,267.5" fill="#111" stroke="#111" stroke-width="0.6"/><polygon points="1319.4,398.5 1322.0,402.2 1323.9,399.0" fill="#111" stroke="#111" stroke-width="0.6"/><polygon points="1359.9,374.8 1362.6,378.4 1364.4,375.1" fill="#111" stroke="#111" stroke-width="0.6"/><polygon points="1228.5,347.4 1223.0,348.1 1225.4,351.9" fill="#111" stroke="#111" stroke-width="0.6"/><polygon points="1269.2,360.9 1263.9,362.4 1266.8,365.9" fill="#111" stroke="#111" stroke-width="0.6"/><polygon points="1451.7,304.7 1455.8,308.3 1457.2,304.1" fill="#111" stroke="#111" stroke-width="0.6"/><polygon points="1527.7,332.3 1522.4,330.9 1523.1,335.3" fill="#111" stroke="#111" stroke-width="0.6"/>
</g>

<g id="fig14" stroke="#111">
<path d="M1110.0 641.5L1110.0 750.7M1097.3 615.3L1108.3 621.2M1108.3 615.3L1108.3 621.5M1124.4 614.4L1124.4 629.6M1135.4 614.4L1135.4 622.0M1135.4 622.0L1149.8 615.2M1124.4 629.6L1135.4 622.0M1124.4 629.6L1145.6 641.5M1145.6 641.5L1156.6 633.9M1156.6 633.9L1187.9 614.4M1110.0 735.4L1124.4 743.9L1136.3 736.3M1137.1 748.1L1123.6 757.4M1110.9 774.4L1111.7 881.6M1125.3 784.2L1138.0 792.7M1138.0 792.7L1138.8 883.3M1111.7 881.6L1125.6 890.9L1138.8 883.3M1290.3 611.0L1290.7 659.1M1318.5 613.0L1318.7 658.7M1290.7 659.1L1303.2 666.3L1318.7 658.7M1292.2 708.4L1305.6 699.8L1319.0 706.0L1304.6 715.1L1292.2 708.4M1292.2 708.4L1292.2 726.1M1319.2 706.0L1319.2 724.2M1268.7 712.2L1281.1 719.4L1290.7 712.7M1268.7 712.2L1281.1 705.1L1292.2 710.8M1281.1 719.4L1292.2 726.1M1268.7 712.2L1268.7 733.3M1281.1 719.4L1281.1 737.6M1292.2 745.3L1291.3 852.1M1319.2 712.7L1330.0 718.5M1330.0 718.5L1319.2 724.2M1330.0 718.5L1330.4 739.5M1319.2 748.1L1319.4 839.3M1291.3 842.2L1305.6 848.1L1319.4 839.3M1291.3 876.8L1292.7 984.4M1321.0 879.7L1321.7 984.4M1292.7 984.4L1307.5 993.3L1321.7 984.4M1291.3 852.1L1291.3 856.5M1320.4 850.1L1320.4 855.0M1388.8 738.6L1403.6 747.2L1403.8 769.4L1388.8 760.6L1388.8 738.6M1403.6 747.2L1523.6 676.6M1508.1 667.0L1523.6 676.6L1524.3 698.6M1419.8 612.5L1460.2 634.6M1460.7 626.5L1469.8 619.1L1483.1 626.5L1474.2 633.1L1460.7 626.5M1460.7 626.5L1461.3 647.1L1474.2 656.7L1474.2 633.1M1474.2 656.7L1484.5 651.5M1459.5 612.5L1469.8 619.1M1469.8 612.5L1469.8 619.1M1484.5 611.0L1484.5 627.2M1496.3 612.5L1496.3 619.9M1496.3 619.9L1505.9 614.7M1506.6 614.0L1506.6 639.0M1506.6 639.0L1497.3 644.2M1497.3 644.2L1497.3 673.0M1471.3 731.0L1471.3 747.2M1497.8 716.3L1497.8 748.7M1471.3 731.0L1485.3 738.4L1497.8 731.8M1471.3 736.2L1485.3 743.5L1497.8 736.9M1471.3 747.2L1485.3 754.6M1497.8 775.2L1500.1 879.7M1471.5 791.9L1472.4 876.8M1472.4 876.8L1487.3 886.7L1500.1 879.7" stroke-width="1.25"/>
<path d="M1087.2 616.5L1087.2 634.0M1097.3 615.5L1097.3 634.0M1135.4 632.2L1145.6 627.1M1145.6 641.5L1269.2 711.7M1145.0 641.5L1145.6 661.8M1133.7 633.9L1133.7 650.8M1124.4 651.6L1124.4 745.6M1110.0 737.4L1124.4 746.0L1136.9 738.3M1012.7 693.1L1110.0 749.8M1012.7 696.5L1108.3 750.7M1087.2 740.5L1087.2 760.8M1098.2 745.0L1098.2 767.0M1123.6 757.4L1291.2 852.8M1124.8 760.3L1291.2 855.4M1134.6 766.0L1134.6 790.0M1147.3 772.0L1147.3 797.0M1125.3 784.2L1125.6 890.9M1270.0 842.6L1270.0 866.0M1281.0 846.5L1281.0 872.0M1303.9 614.0L1303.2 666.3M1304.6 715.1L1305.6 848.1M1291.3 844.2L1305.6 850.2L1319.4 841.4M1305.6 850.2L1307.5 993.3M1320.4 850.1L1485.3 754.6M1320.4 852.8L1485.3 757.3M1330.2 852.0L1330.2 870.9M1343.5 845.0L1343.5 862.5M1484.5 651.5L1485.3 680.3M1485.3 722.2L1485.3 800.0M1497.8 746.5L1597.9 688.3M1497.8 750.2L1597.9 692.0M1507.4 747.0L1507.4 769.5M1519.1 740.5L1519.1 762.8M1463.9 769.0L1463.9 800.0M1475.7 762.5L1475.7 800.0M1486.3 783.0L1487.3 886.7M1463.6 780.0L1463.6 800.7M1476.4 780.0L1476.4 790.0" stroke-width="0.85" stroke="#222"/>
<path d="M1062.6 616.1L1110.0 641.5M1135.4 622.0L1291.2 708.3M1124.4 651.6L1292.0 744.7M1137.1 658.4L1137.1 748.1M1011.0 719.4L1110.9 774.4M1138.0 792.7L1292.0 877.3M1330.4 739.5L1316.6 748.1M1321.0 879.7L1486.3 783.0M1388.8 738.6L1508.1 667.0M1403.8 769.4L1524.3 698.6M1509.6 667.8L1519.1 673.5M1470.5 655.2L1470.5 689.1M1497.8 775.2L1597.9 716.3M1456.6 800.0L1486.0 783.3" stroke-width="2.0"/>
<path d="M1294.0 661.5L1294.0 666.8M1303.2 666.8L1303.2 674.0M1315.1 661.0L1315.1 666.3M1297.0 702.2L1297.4 707.0M1305.6 697.4L1306.0 701.2M1313.7 702.2L1314.2 706.0M1304.6 707.0L1305.1 711.8M1321.3 712.7L1325.2 710.3M1330.9 721.3L1334.7 719.4M1330.9 735.7L1334.7 734.3M1387.3 746.0L1389.8 744.8M1387.0 758.5L1390.0 757.0M1393.3 764.0L1396.2 762.2M1394.3 749.5L1397.5 747.9M1385.0 760.5L1388.0 762.5M1391.5 766.0L1394.0 768.0M1524.6 676.0L1527.2 674.2M1525.0 690.0L1527.8 688.0M1516.5 666.0L1519.5 667.5M1461.7 631.7L1463.9 630.2M1466.9 636.8L1470.5 634.6M1459.5 649.3L1462.4 647.9M1466.9 653.0L1469.8 651.5" stroke-width="2.2" stroke-linecap="butt"/>
<path d="M1291.7 667.5L1291.7 699.0M1318.6 665.5L1318.9 697.5M1388.8 738.6L1327.3 704.4M1388.8 760.6L1333.5 730.5M1508.1 667.0L1483.0 652.3M1449.2 633.1L1460.0 640.0M1447.7 655.2L1486.0 676.6" stroke-width="1.0" stroke-dasharray="4.5 3"/>
<g stroke-width="1.1"><path d="M1228.5 762.5C1246 750 1252 733 1258 718C1263 707 1276 704.5 1292.2 704.9"/><path d="M1228.5 762.5C1250 762 1264 752 1273.4 737.1"/><path d="M1228.5 762.5C1246 764 1253 780 1255 800C1257 820 1268 832 1286.1 835"/><path d="M1348.1 689.8C1338 686 1340 668 1337 658C1334 650 1329 649.5 1320.4 649.1"/><path d="M1432.3 689.8C1437 683 1444 681 1449 685C1452 688 1454 692 1455.1 697.9"/></g>
<polygon points="1291.7,702.3 1293.5,698.2 1289.9,698.2" fill="#111" stroke="#111" stroke-width="0.8"/><polygon points="1318.9,700.3 1320.7,696.2 1317.1,696.2" fill="#111" stroke="#111" stroke-width="0.8"/><polygon points="1327.3,704.4 1330.0,708.0 1331.8,704.8" fill="#111" stroke="#111" stroke-width="0.8"/><polygon points="1333.5,730.5 1336.2,734.1 1338.0,730.9" fill="#111" stroke="#111" stroke-width="0.8"/><polygon points="1449.2,633.1 1451.7,636.9 1453.7,633.8" fill="#111" stroke="#111" stroke-width="0.8"/><polygon points="1447.7,655.2 1450.4,658.8 1452.2,655.6" fill="#111" stroke="#111" stroke-width="0.8"/><polygon points="1292.2,704.9 1287.2,702.7 1287.2,707.2" fill="#111" stroke="#111" stroke-width="0.8"/><polygon points="1273.6,736.5 1269.0,739.6 1273.2,742.0" fill="#fff" stroke="#111" stroke-width="0.8"/><polygon points="1286.1,835.0 1281.7,831.8 1280.7,836.2" fill="#111" stroke="#111" stroke-width="0.8"/><polygon points="1320.4,649.1 1325.2,651.9 1325.5,647.1" fill="#fff" stroke="#111" stroke-width="0.8"/><polygon points="1455.1,697.9 1456.3,692.5 1451.7,693.6" fill="#fff" stroke="#111" stroke-width="0.8"/>
</g>

</svg>
<div class="rule" style="left:141.2px;top:401.2px;width:147.6px;height:48.4px"></div><div class="cn" style="left:160.7px;top:418.38px;transform:scaleX(0.78)">6.12</div><div class="cb" style="left:215.4px;top:418.38px;transform:scaleX(0.78)">Plancher à caissons en forme de «&#8201;moule à gaufres&#8201;».</div>
<div class="rule" style="left:978.9px;top:526.0px;width:147.6px;height:48.4px"></div><div class="cn" style="left:998.6px;top:543.18px;transform:scaleX(0.78)">6.13</div><div class="cb" style="left:1052.6px;top:543.18px;transform:scaleX(0.793)">Mur rideau en panneaux préfabriqués.</div>
<div class="rule" style="left:979.7px;top:997.5px;width:147.6px;height:48.4px"></div><div class="cn" style="left:998.6px;top:1014.68px;transform:scaleX(0.78)">6.14</div><div class="cb" style="left:1053.5px;top:1014.68px;transform:scaleX(0.785)">Ossature en béton préfabriqué.</div>
<div class="h" style="left:290.5px;top:649.70px;transform:scaleX(1.0)">Constructions en béton préfabriqué</div>
<div class="t" style="left:142.7px;top:478.07px;width:703.9px;transform:scaleX(0.9200);word-spacing:2.882px">briques cimentées [fig. 6.13]. Actuellement, pour faire des murs porteurs, les</div>
<div class="t" style="left:142.7px;top:503.87px;width:703.9px;transform:scaleX(0.9200);word-spacing:-0.294px">blocs de béton sont suffisamment résistants à la tension et à la compression pour</div>
<div class="t" style="left:142.7px;top:529.68px;width:703.9px;transform:scaleX(0.9200);word-spacing:-0.465px">être utilisés à la place de la brique. L’édifice le plus élevé, dont les murs porteurs</div>
<div class="t" style="left:142.7px;top:555.48px;width:703.9px;transform:scaleX(0.9200);word-spacing:-1.015px">sont en blocs de béton, est l’hôtel de Disneyworld en Floride, qui mesure 58 m de</div>
<div class="t" style="left:142.7px;top:581.28px;width:703.9px;transform:scaleX(0.9200);word-spacing:-0.524px">haut. Toutefois, de la résine plastique Epoxy, à haute résistance, a été préférée au</div>
<div class="t" style="left:142.7px;top:607.08px;transform:scaleX(0.9431)">mortier pour sa construction.</div>
<div class="t" style="left:290.7px;top:688.98px;width:543.0px;transform:scaleX(0.9200);word-spacing:1.977px">L’un des inconvénients du béton est le temps demandé pour</div>
<div class="t" style="left:142.7px;top:714.77px;width:703.9px;transform:scaleX(0.9200);word-spacing:3.555px">son séchage, ce qui ralentit sensiblement la construction de l’ossature. Étant</div>
<div class="t" style="left:142.7px;top:740.58px;width:709.3px;transform:scaleX(0.9200);word-spacing:0.602px">donné que l’argent qui est nécessaire à la construction des bâtiments est généra-</div>
<div class="t" style="left:142.7px;top:766.38px;width:703.9px;transform:scaleX(0.9200);word-spacing:-0.735px">lement emprunté aux banques à un taux d’intérêt élevé, tout ce qui peut accélérer</div>
<div class="t" style="left:142.7px;top:792.18px;width:703.9px;transform:scaleX(0.9200);word-spacing:0.555px">la construction en réduit d’autant le coût. Partant de là, différentes méthodes de</div>
<div class="t" style="left:142.7px;top:817.98px;transform:scaleX(0.9231)">préfabrication ont été mises au point ces dernières années.</div>
<div class="t" style="left:290.7px;top:843.78px;width:543.0px;transform:scaleX(0.9200);word-spacing:-0.410px">Pour ce genre de construction, il y a deux façons de procéder :</div>
<div class="t" style="left:142.7px;top:869.58px;width:703.9px;transform:scaleX(0.9200);word-spacing:0.049px">en utilisant soit des poutres et des poteaux, soit des plaques. Ces deux méthodes</div>
<div class="t" style="left:142.7px;top:895.38px;width:703.9px;transform:scaleX(0.9200);word-spacing:0.444px">sont tout à fait voisines des « constructions » que peuvent faire les enfants avec</div>
<div class="t" style="left:142.7px;top:921.18px;width:703.9px;transform:scaleX(0.9200);word-spacing:1.841px">des bâtonnets ou des cartes à jouer ! La méthode des « bâtonnets » consiste à</div>
<div class="t" style="left:142.7px;top:946.98px;width:703.9px;transform:scaleX(0.9200);word-spacing:0.520px">fabriquer dans des usines spécialisées des poteaux et des poutres en béton armé</div>
<div class="t" style="left:142.7px;top:972.78px;width:703.9px;transform:scaleX(0.9200);word-spacing:3.354px">ou précontraint, traités à haute température pour leur permettre de sécher en</div>
<div class="t" style="left:142.7px;top:998.58px;width:703.9px;transform:scaleX(0.9200);word-spacing:0.577px">quelques heures au lieu de quelques jours. Il n’est possible de couler et de faire</div>
<div class="t" style="left:142.7px;top:1024.38px;width:709.3px;transform:scaleX(0.9200);word-spacing:0.564px">sécher le béton que lorsque les fondations sont prêtes. On gagne ainsi du temps,</div>
<div class="t" style="left:142.7px;top:1050.17px;width:709.3px;transform:scaleX(0.9200);word-spacing:0.527px">d’une part dans la fabrication des éléments de structure, et d’autre part en plani-</div>
<div class="t" style="left:142.7px;top:1075.98px;width:703.9px;transform:scaleX(0.9200);word-spacing:2.728px">fiant la construction du bâtiment. Les composants préfabriqués peuvent avoir</div>
<div class="t" style="left:142.7px;top:1101.78px;width:703.9px;transform:scaleX(0.9200);word-spacing:0.654px">des formes très différentes selon l’architecte qui les a conçus, et ont tous, grâce</div>
<div class="t" style="left:142.7px;top:1127.58px;width:709.3px;transform:scaleX(0.9200);word-spacing:0.929px">à un procédé de séchage très contrôlé, une excellente résistance. Une fois prêts,</div>
<div class="t" style="left:142.7px;top:1153.38px;width:703.9px;transform:scaleX(0.9200);word-spacing:1.606px">ils sont transportés sur le chantier et assemblés pour former un cadre, dont les</div>
<div class="t" style="left:142.7px;top:1179.17px;width:703.9px;transform:scaleX(0.9200);word-spacing:1.416px">joints sont faits en coulant du béton à haute résistance, qui enveloppe ainsi les</div>
<div class="t" style="left:142.7px;top:1204.98px;width:709.3px;transform:scaleX(0.9200);word-spacing:0.805px">barres d’armature qui dépassent, ou encore en utilisant des câbles précontraints,</div>
<div class="t" style="left:142.7px;top:1230.78px;width:703.9px;transform:scaleX(0.9200);word-spacing:-0.734px">qui assemblent à la fois deux ou plusieurs éléments [fig. 6.14]. Ce genre de cadre</div>
<div class="t" style="left:142.7px;top:1256.58px;width:703.9px;transform:scaleX(0.9200);word-spacing:2.300px">peut être construit presque aussi vite que s’il était en acier, et est devenu très</div>
<div class="t" style="left:981.8px;top:1074.17px;width:703.9px;transform:scaleX(0.9200);word-spacing:1.513px">populaire dans les pays où la main-d’œuvre spécialisée dans la fabrication des</div>
<div class="t" style="left:981.8px;top:1099.97px;transform:scaleX(0.8961)">joints n’est pas aussi chère qu’aux États-Unis.</div>
<div class="t" style="left:1129.8px;top:1125.77px;width:543.0px;transform:scaleX(0.9200);word-spacing:6.279px">Les applications les plus spectaculaires de cette méthode</div>
<div class="t" style="left:981.8px;top:1151.58px;width:703.9px;transform:scaleX(0.9200);word-spacing:2.300px">furent les hangars d’aviation de Pier Luigi Nervi, construits en Italie en 1940</div>
<div class="t" style="left:981.8px;top:1177.38px;width:703.9px;transform:scaleX(0.9200);word-spacing:0.796px">[fig. 6.15]. Occupant une surface de 330 m par 130 m, ces hangars étaient faits</div>
<div class="t" style="left:981.8px;top:1203.17px;width:709.3px;transform:scaleX(0.9200);word-spacing:3.346px">de fermes préfabriquées en béton armé, en forme d’arcs, obtenues en assem-</div>
<div class="t" style="left:981.8px;top:1228.97px;width:709.3px;transform:scaleX(0.9200);word-spacing:1.054px">blant les barres aux points de jonction et en les ourdant. Une série d’arcs paral-</div>
<div class="t" style="left:981.8px;top:1254.77px;width:703.9px;transform:scaleX(0.9200);word-spacing:2.175px">lèles disposés suivant un certain angle forme une toiture en voûte cylindrique</div>
<div class="lb" style="left:1057.3px;top:381.16px;font-size:16px;transform:scaleX(0.905)">panneaux préfabriqués</div>
<div class="lb" style="left:1455.4px;top:402.06px;font-size:16px;transform:scaleX(0.927)">ossature en béton</div>
<div class="lb" style="left:1352.0px;top:652.86px;font-size:16px;transform:scaleX(0.9)">éléments</div>
<div class="lb" style="left:1352.0px;top:671.16px;font-size:16px;transform:scaleX(0.9)">en béton</div>
<div class="lb" style="left:1352.0px;top:688.66px;font-size:16px;transform:scaleX(0.9)">préfabriqués</div>
<div class="lb" style="left:1171.3px;top:733.36px;font-size:16px;transform:scaleX(0.9)">joints</div>
<div class="lb" style="left:1171.3px;top:750.96px;font-size:16px;transform:scaleX(0.9)">hourdés</div>
</body></html>
